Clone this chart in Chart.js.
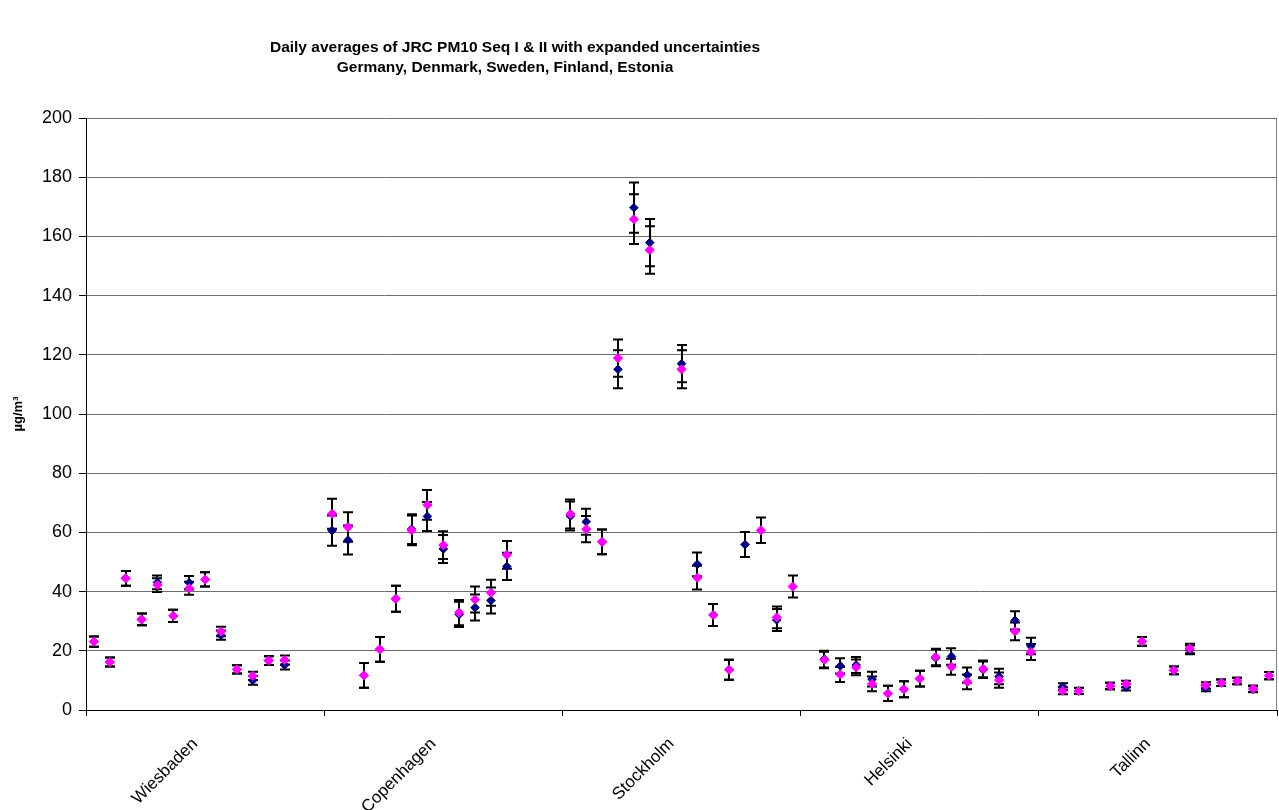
<!DOCTYPE html>
<html><head><meta charset="utf-8">
<script src="https://cdn.jsdelivr.net/npm/chart.js@4.4.1/dist/chart.umd.min.js"></script>
<style>html,body{margin:0;padding:0;background:#fff;}#wrap{position:relative;width:1279px;height:810px;}</style>
</head><body><div id="wrap"><canvas id="c"></canvas></div>
<script>
// ---- data ----
const titleLines = ['Daily averages of JRC PM10 Seq I & II with expanded uncertainties',
                    'Germany, Denmark, Sweden, Finland, Estonia'];
const cities = ['Wiesbaden', 'Copenhagen', 'Stockholm', 'Helsinki', 'Tallinn'];
const slotsPerCity = 15;
const yAxisTitle = 'µg/m³';
const yMin = 0, yMax = 200, yStep = 20;

// Seq I (blue) daily averages, 15 sampling slots per city
const seqI = [
  23.1, 16.2, 44.5, 30.6, 43.1, 31.8, 43.0, 44.1, 25.3, 13.7, 10.0, 16.7, 15.2, null, null,   // Wiesbaden
  60.6, 57.4, 11.7, 20.5, 37.6, 61.1, 65.4, 54.4, 32.3, 34.6, 37.0, 48.5, null, null, null,   // Copenhagen
  65.5, 63.6, 56.8, 115.1, 169.7, 157.9, null, 117.0, 49.2, 32.1, 13.6, 55.9, null, 30.4, null, // Stockholm
  null, 17.2, 14.9, 15.2, 10.4, 5.6, 7.0, 10.6, 17.6, 18.1, 11.8, 13.6, 11.3, 30.3, 21.6,     // Helsinki
  null, 7.9, 6.5, null, 8.1, 7.7, 23.2, null, 13.4, 20.3, 7.4, 9.2, 9.8, 7.0, 11.6            // Tallinn
];
// Seq I expanded uncertainty (±)
const seqIUnc = [
  1.7, 1.5, 2.5, 2.0, 2.3, 2.1, 2.3, 2.4, 1.6, 1.4, 1.5, 1.5, 1.5, null, null,
  5.1, 4.9, 4.2, 4.2, 4.4, 5.0, 4.9, 4.7, 4.3, 4.4, 4.4, 4.6, null, null, null,
  4.9, 4.4, 4.2, 6.4, 8.5, 8.0, null, 6.3, 4.0, 3.7, 3.4, 4.2, null, 3.7, null,
  null, 2.8, 2.6, 2.7, 2.5, 2.6, 2.7, 2.7, 2.8, 2.8, 2.6, 2.8, 2.6, 3.1, 2.8,
  null, 1.1, 1.0, null, 1.1, 1.1, 1.5, null, 1.3, 1.5, 1.1, 1.1, 1.1, 1.0, 1.2
];
// Seq II (magenta) daily averages
const seqII = [
  23.1, 16.2, 44.5, 30.6, 42.2, 31.8, 41.1, 44.1, 26.5, 13.7, 11.5, 16.7, 16.9, null, null,
  66.3, 61.8, 11.7, 20.5, 37.6, 60.7, 69.3, 55.7, 32.9, 37.3, 39.6, 52.4, null, null, null,
  66.2, 61.1, 56.8, 118.9, 165.8, 155.4, null, 115.1, 44.7, 32.1, 13.6, null, 60.7, 31.3, 41.7,
  null, 16.9, 12.0, 14.4, 8.8, 5.6, 7.0, 10.6, 17.9, 14.6, 9.5, 13.9, 10.1, 26.6, 19.6,
  null, 6.5, 6.4, null, 8.1, 8.8, 23.2, null, 13.4, 20.8, 8.3, 9.2, 9.8, 7.2, 11.6
];
// Seq II expanded uncertainty (±)
const seqIIUnc = [
  1.7, 1.5, 2.5, 2.0, 2.3, 2.1, 2.2, 2.4, 1.6, 1.4, 1.4, 1.5, 1.5, null, null,
  5.1, 5.0, 4.2, 4.2, 4.4, 5.0, 5.0, 4.7, 4.3, 4.4, 4.4, 4.7, null, null, null,
  4.9, 4.4, 4.2, 6.3, 8.4, 8.0, null, 6.4, 4.0, 3.7, 3.4, null, 4.3, 3.7, 3.7,
  null, 2.8, 2.5, 2.7, 2.5, 2.6, 2.7, 2.7, 2.8, 2.7, 2.5, 2.8, 2.6, 3.0, 2.7,
  null, 1.2, 1.0, null, 1.1, 1.1, 1.5, null, 1.3, 1.6, 1.1, 1.1, 1.1, 1.1, 1.2
];

// ---- build ----
const FONT = '"Liberation Sans", Arial, sans-serif';
function toPoints(vals, unc) {
  const out = [];
  vals.forEach((v, i) => { if (v !== null) out.push({x: i + 0.5, y: v, u: unc[i]}); });
  return out;
}

const errorBars = {
  id: 'errorBars',
  beforeDatasetsDraw(chart) {
    const {ctx, scales: {x, y}} = chart;
    ctx.save();
    ctx.strokeStyle = '#000';
    ctx.lineWidth = 2;
    chart.data.datasets.forEach(ds => {
      ds.data.forEach(p => {
        if (p.u == null) return;
        const px = Math.round(x.getPixelForValue(p.x));
        const yt = y.getPixelForValue(p.y + p.u);
        const yb = y.getPixelForValue(p.y - p.u);
        ctx.beginPath();
        ctx.moveTo(px, yt); ctx.lineTo(px, yb);
        ctx.moveTo(px - 5, yt); ctx.lineTo(px + 5, yt);
        ctx.moveTo(px - 5, yb); ctx.lineTo(px + 5, yb);
        ctx.stroke();
      });
    });
    ctx.restore();
  }
};

const frame = {
  id: 'frame',
  beforeDraw(chart) {
    const {ctx, chartArea: a} = chart;
    ctx.save();
    ctx.fillStyle = '#fff';
    ctx.fillRect(0, 0, chart.width, chart.height);
    ctx.strokeStyle = '#808080';
    ctx.lineWidth = 1;
    ctx.beginPath();
    ctx.moveTo(Math.round(a.right) - 0.5, a.top);
    ctx.lineTo(Math.round(a.right) - 0.5, a.bottom);
    ctx.stroke();
    ctx.restore();
  },
  afterDraw(chart) {
    const {ctx} = chart;
    ctx.save();
    ctx.fillStyle = '#000';
    ctx.font = 'bold 15.5px ' + FONT;
    ctx.textAlign = 'center';
    ctx.textBaseline = 'middle';
    ctx.fillText(titleLines[0], 515, 48);
    ctx.fillText(titleLines[1], 505, 68);
    ctx.restore();
  }
};

new Chart(document.getElementById('c'), {
  type: 'scatter',
  data: {
    datasets: [
      {label: 'Seq I', order: 2, data: toPoints(seqI, seqIUnc), pointStyle: 'rectRot', pointRadius: 4.3,
       backgroundColor: '#000080', borderColor: '#000080', borderWidth: 1, pointHoverRadius: 4.3},
      {label: 'Seq II', order: 1, data: toPoints(seqII, seqIIUnc), pointStyle: 'rectRot', pointRadius: 4.6,
       backgroundColor: '#FF00FF', borderColor: '#FF00FF', borderWidth: 1, pointHoverRadius: 4.6}
    ]
  },
  options: {
    responsive: true,
    maintainAspectRatio: false,
    animation: false,
    events: [],
    layout: {autoPadding: false, padding: {left: 0, top: 118, right: 2, bottom: 0}},
    plugins: {legend: {display: false}, title: {display: false}, tooltip: {enabled: false}},
    scales: {
      x: {
        type: 'linear', min: 0, max: cities.length * slotsPerCity,
        afterFit: s => { s.height = 100; s.paddingRight = 0; s.paddingLeft = 0; },
        afterBuildTicks: s => {
          const t = [];
          for (let k = 0; k <= cities.length; k++) {
            t.push({value: k * slotsPerCity});
            if (k < cities.length) t.push({value: k * slotsPerCity + slotsPerCity / 2});
          }
          s.ticks = t;
        },
        border: {display: true, color: '#000', width: 1},
        grid: {drawOnChartArea: false, drawTicks: true, tickLength: 6,
               tickColor: c => (c.tick && c.tick.value % slotsPerCity === 0) ? '#000' : 'rgba(0,0,0,0)'},
        ticks: {autoSkip: false, minRotation: 45, maxRotation: 45, color: '#000',
                font: {family: FONT, size: 17}, padding: 18, labelOffset: -10,
                callback: v => (v % slotsPerCity === slotsPerCity / 2) ? cities[Math.floor(v / slotsPerCity)] : ''}
      },
      y: {
        min: yMin, max: yMax,
        afterFit: s => { s.width = 86; },
        border: {display: true, color: '#000', width: 1},
        grid: {color: '#6e6e6e', lineWidth: 1, tickLength: 7, tickColor: '#000'},
        ticks: {stepSize: yStep, color: '#000', font: {family: FONT, size: 18}, padding: 7},
        title: {display: true, text: yAxisTitle, color: '#000', font: {family: FONT, size: 13, weight: 'bold'},
                padding: {top: 11, bottom: 0}}
      }
    }
  },
  plugins: [frame, errorBars]
});
</script></body></html>
